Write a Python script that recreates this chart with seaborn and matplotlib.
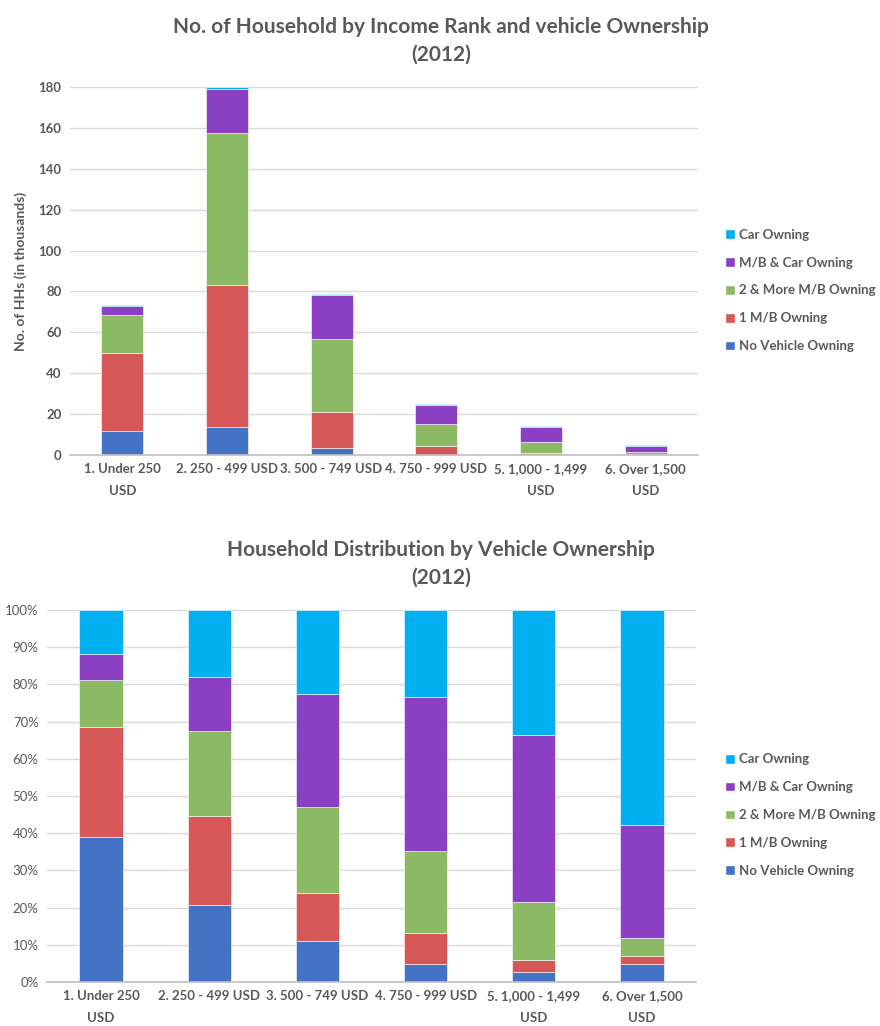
import matplotlib
matplotlib.use("Agg")
import matplotlib.pyplot as plt
from matplotlib.patches import Patch
from matplotlib.ticker import PercentFormatter
import numpy as np
import pandas as pd
import seaborn as sns

sns.set_theme(style="white")
plt.rcParams["font.family"] = ["Lato", "DejaVu Sans"]

# Income ranks
categories = ["1. Under 250\nUSD", "2. 250 - 499 USD", "3. 500 - 749 USD",
              "4. 750 - 999 USD", "5. 1,000 - 1,499\nUSD", "6. Over 1,500\nUSD"]

series_names = ["No Vehicle Owning", "1 M/B Owning", "2 & More M/B Owning",
                "M/B & Car Owning", "Car Owning"]

# Number of households (thousands)
hh_no_vehicle = [11.7, 13.5, 3.6, 0.2, 0.1, 0.1]
hh_one_mb = [38.3, 69.7, 17.6, 4.0, 0.9, 0.2]
hh_two_mb = [18.6, 74.3, 35.7, 11.1, 5.5, 1.2]
hh_mb_car = [4.4, 21.5, 21.4, 9.2, 7.4, 2.7]
hh_car = [0.5, 1.0, 0.6, 0.4, 0.3, 0.5]

# Share of households (%)
pct_no_vehicle = [38.9, 20.6, 11.0, 4.7, 2.7, 4.7]
pct_one_mb = [29.7, 23.9, 12.8, 8.6, 3.1, 2.2]
pct_two_mb = [12.7, 23.0, 23.3, 22.0, 15.6, 4.9]
pct_mb_car = [6.8, 14.6, 30.3, 41.3, 45.1, 30.3]
pct_car = [11.9, 17.9, 22.6, 23.4, 33.5, 57.9]

colors = ["#4472C4", "#D65757", "#8CB964", "#8B40C3", "#00B0F0"]
text_color = "#595959"
grid_color = "#D9D9D9"


def stacked(ax, series, bar_width):
    bottom = np.zeros(len(categories))
    for name, vals, col in zip(series_names, series, colors):
        df = pd.DataFrame({"cat": categories, "val": vals})
        sns.barplot(data=df, x="cat", y="val", color=col, bottom=bottom,
                    width=bar_width, ax=ax, saturation=1, errorbar=None,
                    edgecolor="white", linewidth=0.4)
        bottom = bottom + np.asarray(vals, dtype=float)


def style_axes(ax):
    sns.despine(ax=ax, left=True, top=True, right=True)
    ax.spines["bottom"].set_color("#BFBFBF")
    ax.spines["bottom"].set_linewidth(1.2)
    ax.yaxis.grid(True, color=grid_color, linewidth=1)
    ax.set_axisbelow(True)
    ax.tick_params(axis="both", length=0, colors=text_color, pad=6)
    ax.set_xlabel("")
    for lbl in ax.get_xticklabels():
        lbl.set_fontweight("bold")
        lbl.set_fontsize(9.5)
        lbl.set_color(text_color)
        lbl.set_linespacing(1.95)
    ax.set_xlim(-0.5, len(categories) - 0.5)


fig = plt.figure(figsize=(8.8, 10.26), dpi=100)

# Household counts
ax1 = fig.add_axes([0.0795, 0.5565, 0.7136, 0.3587])
stacked(ax1, [hh_no_vehicle, hh_one_mb, hh_two_mb, hh_mb_car, hh_car], 0.4)
style_axes(ax1)
ax1.set_ylim(0, 180)
ax1.set_yticks(range(0, 181, 20))
for lbl in ax1.get_yticklabels():
    lbl.set_fontweight("bold")
    lbl.set_fontsize(9.5)
ax1.set_ylabel("No. of HHs (in thousands)", fontsize=10, fontweight="bold",
               color=text_color, labelpad=8)
ax1.set_title("No. of Household by Income Rank and vehicle Ownership\n(2012)",
              fontsize=15, fontweight="bold", color=text_color, pad=19,
              linespacing=1.45, x=0.591)

# Household distribution
ax2 = fig.add_axes([0.0534, 0.0429, 0.7375, 0.3626])
stacked(ax2, [[v / 100 for v in s] for s in
              [pct_no_vehicle, pct_one_mb, pct_two_mb, pct_mb_car, pct_car]], 0.4)
style_axes(ax2)
ax2.set_ylim(0, 1)
ax2.set_yticks(np.linspace(0, 1, 11))
ax2.yaxis.set_major_formatter(PercentFormatter(1.0, decimals=0))
for lbl in ax2.get_yticklabels():
    lbl.set_fontsize(9.5)
ax2.set_ylabel("")
ax2.set_title("Household Distribution by Vehicle Ownership\n(2012)",
              fontsize=15, fontweight="bold", color=text_color, pad=19,
              linespacing=1.45, x=0.607)

handles = [Patch(facecolor=c, label=n) for n, c in zip(series_names, colors)][::-1]
for ax, y in [(ax1, 0.7169), (ax2, 0.2057)]:
    fig.legend(handles=handles, loc="center left", bbox_to_anchor=(0.81, y),
               frameon=False, handlelength=0.75, handleheight=0.75,
               handletextpad=0.35, labelspacing=1.2,
               prop={"weight": "bold", "size": 9.5}, labelcolor=text_color)

fig.savefig("out.png", dpi=100, facecolor="white")
